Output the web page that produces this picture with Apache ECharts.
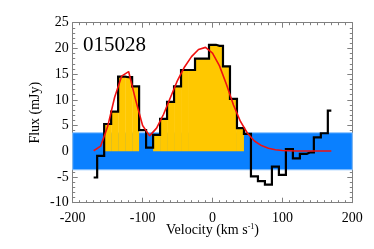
<!DOCTYPE html>
<html>
<head>
<meta charset="utf-8">
<script src="https://cdn.jsdelivr.net/npm/echarts@6/dist/echarts.min.js"></script>
<style>
html,body{margin:0;padding:0;background:#fff;}
#chart{width:374px;height:249px;}
</style>
</head>
<body>
<div id="chart"></div>
<script>
// ---- data ----
const sourceLabel = '015028';
const velocity = [-170,-160,-150,-140,-130,-120,-110,-100,-90,-80,-70,-60,-50,-40,-30,-20,-10,0,10,20,30,40,50,60,70,80,90,100,110,120,130,140,150,160,170];
const flux = [-5.1,-0.9,5.3,7.7,14.5,14.4,12.6,4.1,0.7,3.2,6.3,9.6,12.6,15.8,15.8,18.0,18.0,20.7,20.5,16.5,10.2,4.5,3.4,-4.9,-5.8,-6.5,-3.0,-4.6,0.4,-1.4,-0.5,-0.2,2.7,3.5,7.9];
const fitFlux = [0.1,1.0,4.8,10.5,14.6,15.5,10.0,5.0,3.0,4.5,7.2,10.5,13.8,16.4,18.4,19.8,20.2,19.1,16.6,13.0,9.0,5.8,3.5,2.0,1.1,0.6,0.3,0.15,0.1,0.05,0.05,0.05,0.05,0.05,0.05];
const filledVelocities = [-150,-140,-130,-120,-110,-80,-70,-60,-50,-40,-30,-20,-10,0,10,20,30,40];
const binWidth = 10;
const noiseLevel = 3.6;
const xTicks = [-200,-100,0,100,200];
const yTicks = [-10,-5,0,5,10,15,20,25];

// ---- build ----
const histData = velocity.map((v,i)=>[v, flux[i]]);
const fitData = velocity.map((v,i)=>[v, fitFlux[i]]);
const fillData = filledVelocities.map(v=>[v, flux[velocity.indexOf(v)]]);

const serif = 'Liberation Serif';
const axisColor = '#808080';
function xAx(pos, labels){
  return {
    type:'value', min:xTicks[0], max:xTicks[xTicks.length-1], interval:100, position:pos,
    axisLine:{show:true, onZero:false, lineStyle:{color:axisColor, width:1}},
    axisTick:{show:true, inside:true, length:5, lineStyle:{color:axisColor}},
    minorTick:{show:true, splitNumber:10, length:2.5, lineStyle:{color:axisColor}},
    splitLine:{show:false},
    axisLabel:{show:labels, fontFamily:serif, fontSize:14, color:'#000', margin:9},
  };
}
function yAx(pos, labels){
  return {
    type:'value', min:yTicks[0], max:yTicks[yTicks.length-1], interval:5, position:pos,
    axisLine:{show:true, onZero:false, lineStyle:{color:axisColor, width:1}},
    axisTick:{show:true, inside:true, length:5, lineStyle:{color:axisColor}},
    minorTick:{show:true, splitNumber:5, length:2.5, lineStyle:{color:axisColor}},
    splitLine:{show:false},
    axisLabel:{show:labels, fontFamily:serif, fontSize:14, color:'#000', margin:4},
  };
}
const xa = xAx('bottom', true);
xa.name = '{a|Velocity (km s}{s|-1}{a|)}';
xa.nameLocation = 'middle';
xa.nameGap = 20;
xa.nameMoveOverlap = false;
xa.nameTextStyle = {fontFamily:serif, fontSize:14, color:'#000',
  rich:{a:{fontFamily:serif, fontSize:14, color:'#000', lineHeight:16},
        s:{fontFamily:serif, fontSize:8, color:'#000', verticalAlign:'top', lineHeight:16, padding:[0,0,6,0]}}};
const ya = yAx('left', true);
ya.name = 'Flux (mJy)';
ya.nameLocation = 'middle';
ya.nameGap = 30;
ya.nameMoveOverlap = false;
ya.nameTextStyle = {fontFamily:serif, fontSize:14, color:'#000'};

const chart = echarts.init(document.getElementById('chart'), null, {renderer:'canvas'});
chart.setOption({
  animation:false,
  backgroundColor:'#fff',
  grid:{left:72.7, right:21.7, top:22.7, bottom:46.3},
  title:{text:sourceLabel, left:78, top:30, textStyle:{fontFamily:serif, fontSize:21, fontWeight:'normal', color:'#000'}},
  xAxis:[xa, xAx('top', false)],
  yAxis:[ya, yAx('right', false)],
  series:[
    {type:'line', data:[], z:1, silent:true,
     markArea:{silent:true, itemStyle:{color:'#0A80FF', borderColor:'#8CC4FF', borderWidth:1},
       data:[[{yAxis:-noiseLevel},{yAxis:noiseLevel}]]}},
    {type:'custom', z:2, silent:true, data:fillData,
     renderItem:function(params, api){
       const v = api.value(0), f = api.value(1);
       const p0 = api.coord([v - binWidth/2, 0]);
       const p1 = api.coord([v + binWidth/2, f]);
       return {type:'rect', shape:{x:p0[0], y:Math.min(p0[1],p1[1]), width:p1[0]-p0[0], height:Math.abs(p1[1]-p0[1])},
               style:{fill:'#FFC800'}};
     }},
    {type:'line', z:3, data:histData, step:'middle', symbol:'none', silent:true,
     lineStyle:{color:'#000', width:2.2, join:'miter'}},
    {type:'line', z:4, data:fitData, symbol:'none', silent:true,
     lineStyle:{color:'#F01010', width:1.6}}
  ]
});
</script>
</body>
</html>
